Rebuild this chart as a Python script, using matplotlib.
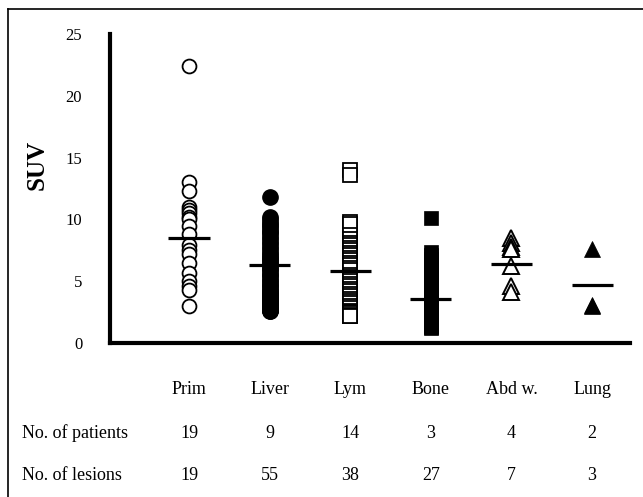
import matplotlib.pyplot as plt
import matplotlib.transforms as mtransforms
import numpy as np
from matplotlib.lines import Line2D

plt.rcParams['font.family'] = ['Liberation Serif', 'DejaVu Serif']

# SUV values
categories = ["Prim", "Liver", "Lym", "Bone", "Abd w.", "Lung"]
prim = [22.4, 13.0, 12.3, 11.0, 10.8, 10.5, 10.2, 10.0, 9.5, 8.8,
        7.9, 7.5, 7.2, 6.5, 5.7, 5.0, 4.6, 4.3, 3.0]
liver = [11.8, 10.2, 10.0, 9.8, 9.6, 9.5, 9.3, 9.1, 9.0, 8.8, 8.6, 8.4, 8.2,
         8.0, 7.8, 7.6, 7.4, 7.2, 7.0, 6.9, 6.8, 6.6, 6.5, 6.3, 6.1, 6.0,
         5.8, 5.6, 5.5, 5.3, 5.1, 5.0, 4.8, 4.7, 4.5, 4.4, 4.2, 4.1, 4.0,
         3.9, 3.8, 3.7, 3.6, 3.5, 3.4, 3.3, 3.2, 3.1, 3.0, 2.9, 2.8, 2.7,
         2.7, 2.6, 2.6]
lym = [14.0, 13.6, 9.8, 9.6, 8.7, 8.4, 8.1, 7.9, 7.7, 7.5, 7.3, 7.1, 6.9,
       6.7, 6.5, 6.3, 6.1, 5.9, 5.5, 5.3, 5.0, 4.8, 4.6, 4.4, 4.2, 4.0,
       3.8, 3.6, 3.4, 3.2, 3.0, 2.8, 2.6, 2.5, 2.4, 2.3, 2.2, 2.2]
bone = [10.1, 7.4, 7.1, 6.8, 6.5, 6.2, 5.9, 5.6, 5.3, 5.0, 4.7, 4.4, 4.1,
        3.8, 3.5, 3.2, 2.9, 2.6, 2.4, 2.2, 2.0, 1.8, 1.6, 1.5, 1.4, 1.3, 1.2]
abd = [8.5, 8.1, 7.8, 7.6, 6.2, 4.6, 4.1]
lung = [7.6, 3.1, 3.0]
means = [8.5, 6.3, 5.8, 3.6, 6.4, 4.7]

n_patients = [19, 9, 14, 3, 4, 2]
n_lesions = [19, 55, 38, 27, 7, 3]

fig = plt.figure(figsize=(6.43, 4.97), dpi=100)
ax = fig.add_axes([110/643, 1 - 343/497, 520/643, 309/497])

series = [prim, liver, lym, bone, abd, lung]
styles = [
    dict(marker='o', ms=10, mfc='white', mec='black', mew=1.3),
    dict(marker='o', ms=11, mfc='black', mec='black', mew=1),
    dict(marker='s', ms=10, mfc='white', mec='black', mew=1.3),
    dict(marker='s', ms=10.5, mfc='black', mec='black', mew=0.5),
    dict(marker='^', ms=11, mfc='white', mec='black', mew=1.4),
    dict(marker='^', ms=11.5, mfc='black', mec='black', mew=0.5),
]
x = np.arange(len(categories))
for i, (vals, st) in enumerate(zip(series, styles)):
    ax.plot(np.full(len(vals), x[i]), vals, linestyle='none', zorder=2, **st)

# mean bars
ax.hlines(means, x - 0.255, x + 0.255, colors='black', linewidth=2.3, zorder=3)

ax.set_xlim(-0.98, 5.47)
ax.set_ylim(0, 25)
ax.set_xticks([])
ax.set_yticks([0, 5, 10, 15, 20, 25])
ax.tick_params(axis='y', length=0, pad=20, labelsize=12)

ax.spines['top'].set_visible(False)
ax.spines['right'].set_visible(False)
ax.spines['bottom'].set_linewidth(3)
ax.spines['left'].set_linewidth(3)

fig.text(37/643, 1 - 165/497, 'SUV', rotation=90, ha='center', va='center',
         fontsize=18, fontweight='bold')

# table under the plot
blend = mtransforms.blended_transform_factory(ax.transData, fig.transFigure)
for i, cat in enumerate(categories):
    ax.text(x[i], 1 - 390/497, cat, transform=blend,
            ha='center', va='center', fontsize=13)
    ax.text(x[i], 1 - 433/497, str(n_patients[i]), transform=blend,
            ha='center', va='center', fontsize=13)
    ax.text(x[i], 1 - 475/497, str(n_lesions[i]), transform=blend,
            ha='center', va='center', fontsize=13)
fig.text(22/643, 1 - 433/497, 'No. of patients', ha='left', va='center', fontsize=13)
fig.text(22/643, 1 - 475/497, 'No. of lesions', ha='left', va='center', fontsize=13)

# outer frame (top and left edges visible)
fig.add_artist(Line2D([8/643, 1.0], [1 - 9/497, 1 - 9/497], color='black',
                      linewidth=1.2, transform=fig.transFigure))
fig.add_artist(Line2D([8/643, 8/643], [0, 1 - 9/497], color='black',
                      linewidth=1.2, transform=fig.transFigure))

fig.savefig('out.png', dpi=100)
